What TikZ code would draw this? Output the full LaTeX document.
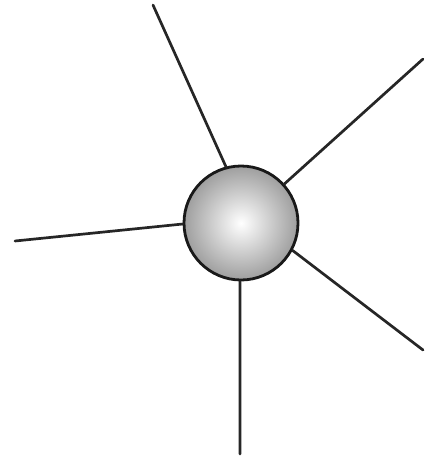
\documentclass[tikz,border=0pt]{standalone}
\begin{document}
\begin{tikzpicture}[x=1pt,y=-1pt,
  ray/.style={line width=2.7pt,black!85,line cap=round},
  ball/.style={circle,draw=black!90,line width=2.8pt,minimum size=114pt,inner sep=0pt,
    inner color=white,outer color=black!38}]
\useasboundingbox (0,0) rectangle (424,458);
\node[ball] (c) at (241,223) {};
\coordinate (tl) at (153,5);
\coordinate (tr) at (423,59);
\coordinate (l) at (15,241);
\coordinate (br) at (423,350);
\coordinate (b) at (240,454);
\draw[ray] (c.105) -- (tl);
\draw[ray] (c.42) -- (tr);
\draw[ray] (c.181) -- (l);
\draw[ray] (c.-28) -- (br);
\draw[ray] (c.-91) -- (b);
\end{tikzpicture}
\end{document}
